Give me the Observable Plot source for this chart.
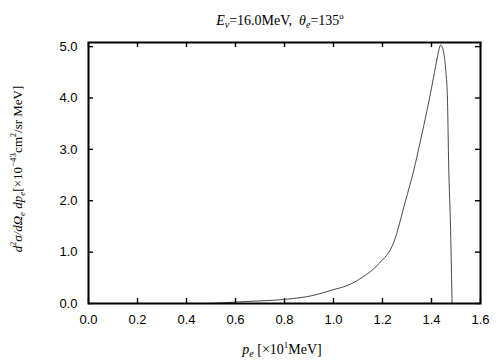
<!DOCTYPE html>
<html><head><meta charset="utf-8">
<script src="https://cdn.jsdelivr.net/npm/d3@7"></script>
<script src="https://cdn.jsdelivr.net/npm/@observablehq/plot@0.6"></script>
<style>body{margin:0;background:#fff}svg{display:block}</style>
</head><body><div id="chart"></div>
<script>
const pe = [0.49, 0.55, 0.65, 0.8, 0.92, 1.0, 1.056, 1.118, 1.186, 1.246, 1.294, 1.327, 1.355, 1.384, 1.408, 1.425, 1.432, 1.437, 1.443, 1.45, 1.458, 1.465, 1.47, 1.478, 1.484];
const xsec = [0.0, 0.015, 0.04, 0.08, 0.16, 0.27, 0.35, 0.51, 0.78, 1.19, 2.0, 2.58, 3.17, 3.81, 4.39, 4.82, 4.97, 5.03, 5.0, 4.88, 4.55, 4.0, 2.72, 1.42, 0.0];
const xTicks = [0, 0.2, 0.4, 0.6, 0.8, 1.0, 1.2, 1.4, 1.6];
const yTicks = [0, 1, 2, 3, 4, 5];

const data = pe.map((x, i) => ({x, y: xsec[i]}));
const fmt = d3.format(".1f");

const W = 504, H = 360, mL = 88, mR = 24, mT = 42, mB = 57, tk = 5;
const fw = W - mL - mR, fh = H - mT - mB;

const svg = Plot.plot({
  width: W, height: H,
  marginLeft: mL, marginRight: mR, marginTop: mT, marginBottom: mB,
  style: {fontFamily: "'Liberation Sans', Arial, sans-serif", fontSize: "13px", background: "#fff", color: "#000"},
  x: {domain: [0, 1.6]},
  y: {domain: [0, 5.08]},
  marks: [
    Plot.line(data, {x: "x", y: "y", stroke: "#333", strokeWidth: 0.9, curve: "monotone-x"}),
    // inward ticks
    Plot.tickX(xTicks, {x: d => d, insetTop: fh - tk, stroke: "#000", strokeWidth: 1.4}),
    Plot.tickX(xTicks, {x: d => d, insetBottom: fh - tk, stroke: "#000", strokeWidth: 1.4}),
    Plot.tickY(yTicks, {y: d => d, insetRight: fw - tk, stroke: "#000", strokeWidth: 1.4}),
    Plot.tickY(yTicks, {y: d => d, insetLeft: fw - tk, stroke: "#000", strokeWidth: 1.4}),
    // labels
    Plot.axisX(xTicks, {anchor: "bottom", tickSize: 0, tickPadding: 11, tickFormat: fmt, label: null}),
    Plot.axisY(yTicks, {anchor: "left", tickSize: 0, tickPadding: 11, tickFormat: fmt, label: null}),
    Plot.frame({stroke: "#000", strokeWidth: 2})
  ]
});
document.getElementById("chart").appendChild(svg);

const s = d3.select(svg);
const serif = "'Liberation Serif', 'Times New Roman', serif";
function addText(g, parts) {
  parts.forEach(p => {
    const t = g.append("tspan").text(p.t);
    if (p.i) t.attr("font-style", "italic");
    if (p.fs) t.attr("font-size", p.fs);
    if (p.dy) t.attr("dy", p.dy);
  });
}
// title
const title = s.append("text").attr("x", 280).attr("y", 25).attr("text-anchor", "middle")
  .attr("font-family", serif).attr("font-size", 14);
addText(title, [
  {t: "E", i: 1}, {t: "ν", i: 1, fs: 10, dy: 3}, {t: "=16.0MeV,  ", dy: -3},
  {t: "θ", i: 1}, {t: "e", i: 1, fs: 10, dy: 3}, {t: "=135", dy: -3}, {t: "o", fs: 9, dy: -6}
]);
// x label
const xl = s.append("text").attr("x", 282).attr("y", 354).attr("text-anchor", "middle")
  .attr("font-family", serif).attr("font-size", 14);
addText(xl, [
  {t: "p", i: 1}, {t: "e", i: 1, fs: 10, dy: 3}, {t: " [×10", dy: -3}, {t: "1", fs: 9, dy: -6}, {t: "MeV]", dy: 6}
]);
// y label
const yl = s.append("text").attr("transform", "translate(22,169) rotate(-90)").attr("text-anchor", "middle")
  .attr("font-family", serif).attr("font-size", 13);
addText(yl, [
  {t: "d", i: 1}, {t: "2", fs: 8, dy: -6}, {t: "σ/dΩ", i: 1, dy: 6}, {t: "e", i: 1, fs: 9, dy: 3},
  {t: " dp", i: 1, dy: -3}, {t: "e", i: 1, fs: 9, dy: 3}, {t: "[×10", dy: -3}, {t: "−43", fs: 9, dy: -6},
  {t: "cm", dy: 6}, {t: "2", fs: 8, dy: -6}, {t: "/sr MeV]", dy: 6}
]);
</script></body></html>
